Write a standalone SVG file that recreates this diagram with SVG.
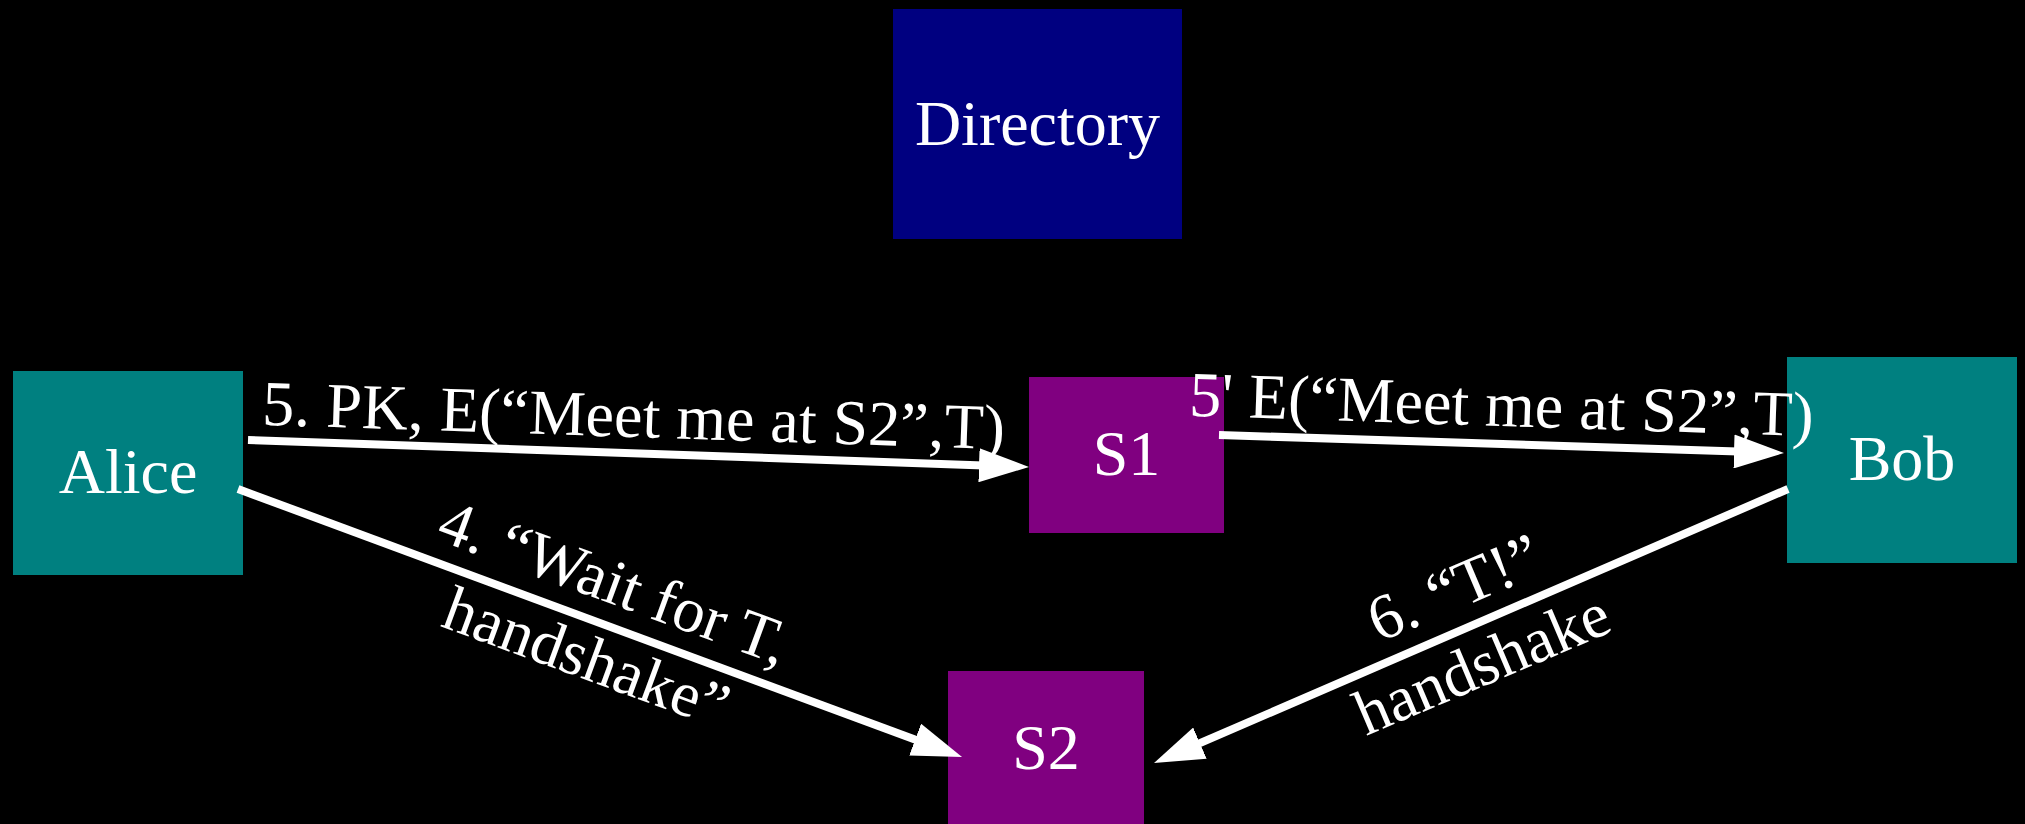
<svg xmlns="http://www.w3.org/2000/svg" width="2025" height="824" viewBox="0 0 2025 824">
<style>
text{font-family:"Liberation Serif","Times New Roman",serif;font-size:64px;fill:#fff;text-anchor:middle}
.e{stroke:#fff;stroke-width:8;fill:none}
</style>
<defs>
<marker id="ah" viewBox="0 0 50 34" refX="12" refY="17" markerWidth="50" markerHeight="34" markerUnits="userSpaceOnUse" orient="auto">
<path d="M0,0 L50,17 L0,34 Z" fill="#fff"/>
</marker>
</defs>
<rect width="2025" height="824" fill="#000"/>
<g id="directory"><rect x="893" y="9" width="289" height="230" fill="#000080"/><text x="1037.5" y="145">Directory</text></g>
<g id="alice"><rect x="13" y="371" width="230" height="204" fill="#008080"/><text x="128" y="493">Alice</text></g>
<g id="s1"><rect x="1029" y="377" width="195" height="156" fill="#800080"/><text x="1126.5" y="475">S1</text></g>
<g id="bob"><rect x="1787" y="357" width="230" height="206" fill="#008080"/><text x="1902" y="480">Bob</text></g>
<g id="s2"><rect x="948" y="671" width="196" height="160" fill="#800080"/><text x="1046" y="769">S2</text></g>
<g id="connectors">
<line class="e" x1="248" y1="440" x2="991" y2="465.7" marker-end="url(#ah)"/>
<line class="e" x1="1219" y1="435" x2="1746" y2="451.8" marker-end="url(#ah)"/>
<line class="e" x1="238" y1="489" x2="926.4" y2="743.8" marker-end="url(#ah)"/>
<line class="e" x1="1788" y1="489" x2="1188.9" y2="747.9" marker-end="url(#ah)"/>
<text transform="translate(633,437) rotate(1.9)">5. PK, E(“Meet me at S2”,T)</text>
<text transform="translate(1501,426) rotate(1.9)">5' E(“Meet me at S2”,T)</text>
<g transform="translate(600,621) rotate(20.2)"><text y="-20">4. “Wait for T,</text><text y="60">handshake”</text></g>
<g transform="translate(1467,628) rotate(-23)"><text x="4" y="-21">6. “T!”</text><text y="60">handshake</text></g>
</g>
</svg>
